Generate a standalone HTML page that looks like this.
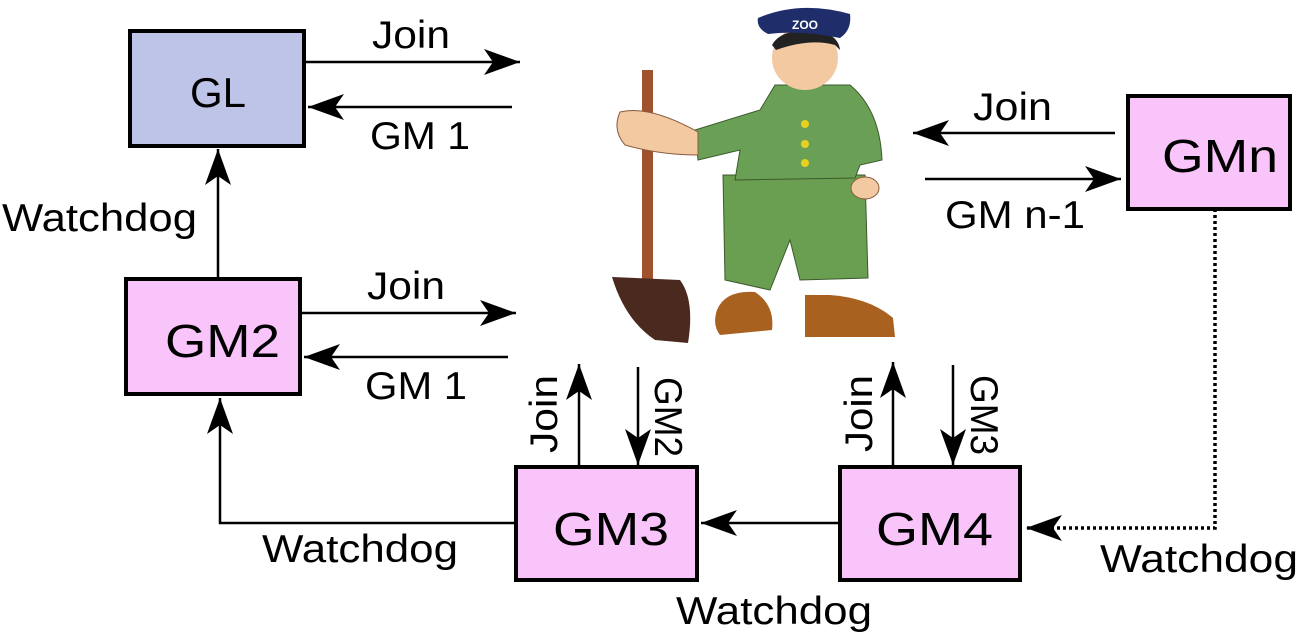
<!DOCTYPE html>
<html><head><meta charset="utf-8"><style>
html,body{margin:0;padding:0;background:#fff;}
svg{display:block;}
text{font-family:"Liberation Sans",sans-serif;fill:#000;}
</style></head><body>
<svg width="1308" height="642" viewBox="0 0 1308 642" xmlns="http://www.w3.org/2000/svg">
<defs>
<marker id="ah" markerWidth="40" markerHeight="30" refX="36" refY="13" orient="auto" markerUnits="userSpaceOnUse">
<path d="M0,0 L36,13 L0,26 L9,13 Z" fill="#000"/>
</marker>
</defs>
<!-- zookeeper illustration -->
<g>
<rect x="642" y="70" width="11" height="220" fill="#a0522d"/>
<path d="M612,277 L680,280 Q695,300 688,343 L655,340 Q625,320 612,277 Z" fill="#4a2a1e"/>
<path d="M723,175 L865,175 L868,278 L800,280 L790,240 L770,290 L725,280 Z" fill="#6a9e50" stroke="#3b5a2c" stroke-width="1"/>
<path d="M775,85 L850,85 Q880,110 882,160 L860,165 L855,178 L735,180 L740,150 L698,160 L695,130 L760,110 Z" fill="#6aa055" stroke="#3b5a2c" stroke-width="1"/>
<circle cx="805" cy="124" r="4" fill="#e8d020"/><circle cx="805" cy="144" r="4" fill="#e8d020"/><circle cx="805" cy="163" r="4" fill="#e8d020"/>
<path d="M620,112 Q650,105 698,132 L698,155 Q660,155 625,145 Q612,130 620,112 Z" fill="#f2c9a0" stroke="#8a5a3a" stroke-width="1"/>
<ellipse cx="865" cy="188" rx="14" ry="11" fill="#f2c9a0" stroke="#8a5a3a" stroke-width="1"/>
<ellipse cx="805" cy="58" rx="33" ry="32" fill="#f2c9a0"/>
<path d="M772,45 Q780,30 810,30 Q838,32 840,50 L835,45 Q810,38 776,50 Z" fill="#222"/>
<path d="M758,18 Q800,0 850,14 Q852,30 840,38 Q800,30 768,34 Q756,28 758,18 Z" fill="#1f2d6a"/>
<text x="792" y="29" font-size="12" font-weight="bold" style="fill:#fff">ZOO</text>
<path d="M717,310 Q725,290 755,292 Q775,305 772,330 L720,335 Q712,325 717,310 Z" fill="#a8611f"/>
<path d="M805,295 L830,295 Q870,298 893,318 L895,337 L805,337 Z" fill="#a8611f"/>
</g>
<!-- boxes -->
<rect x="130" y="31" width="174" height="115" fill="#bec3e8" stroke="#000" stroke-width="4"/>
<text x="190" y="107" font-size="42" textLength="56" lengthAdjust="spacingAndGlyphs">GL</text>
<rect x="126" y="279" width="174" height="115" fill="#f8c4fa" stroke="#000" stroke-width="4"/>
<text x="165" y="357" font-size="46" textLength="115" lengthAdjust="spacingAndGlyphs">GM2</text>
<rect x="516" y="467" width="181" height="113" fill="#f8c4fa" stroke="#000" stroke-width="4"/>
<text x="553" y="545" font-size="46" textLength="116" lengthAdjust="spacingAndGlyphs">GM3</text>
<rect x="840" y="467" width="180" height="113" fill="#f8c4fa" stroke="#000" stroke-width="4"/>
<text x="876" y="545" font-size="46" textLength="117" lengthAdjust="spacingAndGlyphs">GM4</text>
<rect x="1128" y="96" width="162" height="113" fill="#f8c4fa" stroke="#000" stroke-width="4"/>
<text x="1162" y="172" font-size="46" textLength="116" lengthAdjust="spacingAndGlyphs">GMn</text>
<!-- arrows -->
<g stroke="#000" stroke-width="2.5" fill="none">
<line x1="304" y1="62" x2="520" y2="62" marker-end="url(#ah)"/>
<line x1="512" y1="107" x2="308" y2="107" marker-end="url(#ah)"/>
<line x1="300" y1="313" x2="516" y2="313" marker-end="url(#ah)"/>
<line x1="508" y1="357" x2="304" y2="357" marker-end="url(#ah)"/>
<line x1="218" y1="277" x2="218" y2="149" marker-end="url(#ah)"/>
<polyline points="516,523 220,523 220,398" marker-end="url(#ah)"/>
<line x1="840" y1="523" x2="701" y2="523" marker-end="url(#ah)"/>
<line x1="579" y1="465" x2="579" y2="364" marker-end="url(#ah)"/>
<line x1="638" y1="367" x2="638" y2="465" marker-end="url(#ah)"/>
<line x1="893" y1="465" x2="893" y2="362" marker-end="url(#ah)"/>
<line x1="953" y1="365" x2="953" y2="465" marker-end="url(#ah)"/>
<line x1="1115" y1="133" x2="913" y2="133" marker-end="url(#ah)"/>
<line x1="925" y1="179" x2="1121" y2="179" marker-end="url(#ah)"/>
<polyline points="1215,209 1215,528 1026,528" stroke-width="3.5" stroke-dasharray="3,3" marker-end="url(#ah)"/>
</g>
<!-- labels -->
<g font-size="39">
<text x="372" y="48" textLength="78" lengthAdjust="spacingAndGlyphs">Join</text>
<text x="370" y="149" textLength="100" lengthAdjust="spacingAndGlyphs">GM 1</text>
<text x="367" y="299" textLength="78" lengthAdjust="spacingAndGlyphs">Join</text>
<text x="365" y="399" textLength="102" lengthAdjust="spacingAndGlyphs">GM 1</text>
<text x="2" y="231" textLength="195" lengthAdjust="spacingAndGlyphs">Watchdog</text>
<text x="262" y="562" textLength="196" lengthAdjust="spacingAndGlyphs">Watchdog</text>
<text x="676" y="624" textLength="196" lengthAdjust="spacingAndGlyphs">Watchdog</text>
<text x="1100" y="572" textLength="198" lengthAdjust="spacingAndGlyphs">Watchdog</text>
<text x="973" y="120" textLength="79" lengthAdjust="spacingAndGlyphs">Join</text>
<text x="945" y="228" textLength="140" lengthAdjust="spacingAndGlyphs">GM n-1</text>
<text transform="translate(557,453) rotate(-90)" textLength="78" lengthAdjust="spacingAndGlyphs">Join</text>
<text transform="translate(655,377) rotate(90)" textLength="80" lengthAdjust="spacingAndGlyphs">GM2</text>
<text transform="translate(872,452) rotate(-90)" textLength="77" lengthAdjust="spacingAndGlyphs">Join</text>
<text transform="translate(971,375) rotate(90)" textLength="80" lengthAdjust="spacingAndGlyphs">GM3</text>
</g>
</svg>
</body></html>
